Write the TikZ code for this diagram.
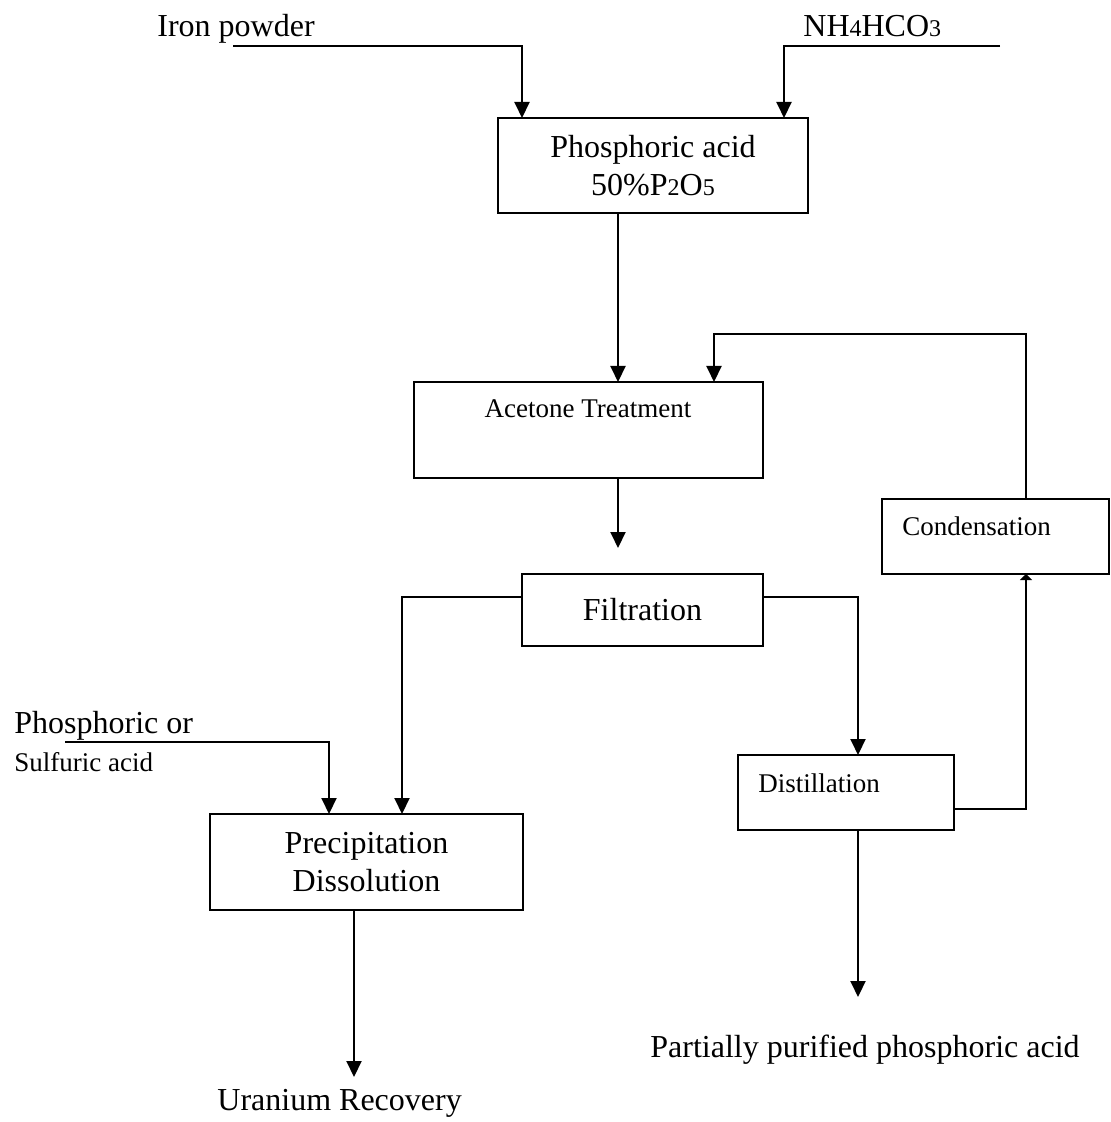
\documentclass[tikz,border=0pt]{standalone}
\usepackage{fontspec}
\setmainfont{Liberation Serif}
\usetikzlibrary{arrows.meta}

\tikzset{
  unit/.style={draw, line width=1pt, anchor=north west, outer sep=0pt, inner sep=0pt},
  flow/.style={line width=1pt, -{Triangle[width=7.5pt,length=8pt]}},
  feed/.style={line width=1pt, -{Triangle[width=6pt,length=3pt]}},
  bigtext/.style={font=\fontsize{16}{19}\selectfont, inner sep=0pt},
  smalltext/.style={font=\fontsize{13.5}{16}\selectfont, inner sep=0pt},
}
\newcommand{\lowdig}[1]{{\fontsize{12}{14}\selectfont #1}}

\begin{document}
\begin{tikzpicture}[x=0.5pt,y=-0.5pt]
	\useasboundingbox (0,0) rectangle (1111,1122);

	% boxes
	\node[unit, bigtext, align=center, minimum width=155pt, minimum height=47.5pt] (acid) at (498,118) {Phosphoric acid\\50\%P\lowdig{2}O\lowdig{5}};
	\node[unit, minimum width=174.5pt, minimum height=48pt] (acetone) at (414,382) {};
	\node[unit, bigtext, minimum width=120.5pt, minimum height=36pt] (filt) at (522,574) {Filtration};
	\node[unit, minimum width=113.5pt, minimum height=37.5pt] (cond) at (882,499) {};
	\node[unit, minimum width=108pt, minimum height=37.5pt] (dist) at (738,755) {};
	\node[unit, bigtext, align=center, minimum width=156.5pt, minimum height=48pt] (prec) at (210,814) {Precipitation\\[0.25pt]Dissolution};

	% texts
	\node[bigtext, anchor=base west] (iron) at (157,37) {Iron powder};
	\node[bigtext, anchor=base west] (nh) at (803,37) {NH\lowdig{4}HCO\lowdig{3}};
	\node[smalltext, anchor=base] (acetonelbl) at (588,417) {Acetone Treatment};
	\node[smalltext, anchor=base west] (condlbl) at (902,535) {Condensation};
	\node[smalltext, anchor=base west] (distlbl) at (758,792) {Distillation};
	\node[bigtext, anchor=base west] (phos) at (14,733) {Phosphoric or};
	\node[smalltext, anchor=base west] (sulf) at (14,771) {Sulfuric acid};
	\node[bigtext, anchor=base west] (uran) at (217,1110) {Uranium Recovery};
	\node[bigtext, anchor=base west] (pure) at (650,1057) {Partially purified phosphoric acid};

	% guide points
	\coordinate (ironend) at (233,46);
	\coordinate (ironx) at (522,0);
	\coordinate (nhend) at (1000,46);
	\coordinate (nhx) at (784,0);
	\coordinate (spine) at (618,0);
	\coordinate (fbtop) at (714,334);
	\coordinate (recyc) at (1026,0);
	\coordinate (drop) at (618,548);
	\coordinate (split) at (0,597);
	\coordinate (leftx) at (402,0);
	\coordinate (rightx) at (858,0);
	\coordinate (acidend) at (65,742);
	\coordinate (acidx) at (329,0);
	\coordinate (urx) at (354,0);
	\coordinate (urend) at (354,1077);
	\coordinate (ppend) at (858,997);
	\coordinate (distout) at (0,809);

	% flows
	\draw[flow] (ironend) -| (acid.north -| ironx);
	\draw[flow] (nhend) -| (acid.north -| nhx);
	\draw[flow] (acid.south -| spine) -- (acetone.north -| spine);
	\draw[flow] (cond.north -| recyc) |- (fbtop) -- (acetone.north -| fbtop);
	\draw[flow] (acetone.south -| spine) -- (drop);
	\draw[flow] (filt.west |- split) -| (prec.north -| leftx);
	\draw[flow] (filt.east |- split) -| (dist.north -| rightx);
	\draw[flow] (acidend) -| (prec.north -| acidx);
	\draw[flow] (prec.south -| urx) -- (urend);
	\draw[flow] (dist.south -| rightx) -- (ppend);
	\draw[feed] (dist.east |- distout) -| (cond.south -| recyc);
\end{tikzpicture}
\end{document}
